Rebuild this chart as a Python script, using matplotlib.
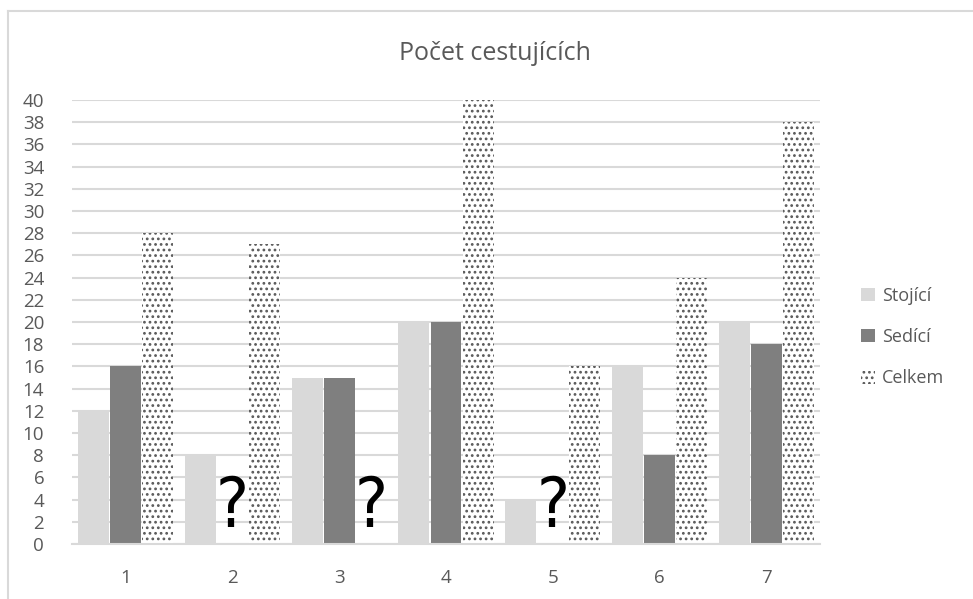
import matplotlib.pyplot as plt
import numpy as np

plt.rcParams['font.family'] = ['Open Sans', 'DejaVu Sans']
plt.rcParams['hatch.linewidth'] = 1.2

categories = ['1', '2', '3', '4', '5', '6', '7']
stojici = [12, 8, 15, 20, 4, 16, 20]
sedici = [16, None, 15, 20, None, 8, 18]
celkem = [28, 27, None, 40, 16, 24, 38]

txt = '#595959'
grid = '#d9d9d9'

fig = plt.figure(figsize=(9.73, 5.99), dpi=100)
ax = fig.add_axes([72 / 973, 55 / 599, 748 / 973, 444 / 599])

# outer chart frame (left + top only visible)
fig.add_artist(plt.Line2D([8 / 973, 8 / 973], [0, 1 - 11 / 599], color=grid, lw=1.5))
fig.add_artist(plt.Line2D([8 / 973, 1], [1 - 11 / 599, 1 - 11 / 599], color=grid, lw=1.5))

x = np.arange(len(categories))
w = 0.29
off = 0.30

def vals(s):
    return [0 if v is None else v for v in s]

ax.bar(x - off, vals(stojici), w, color='#d9d9d9', label='Stojící', zorder=2)
ax.bar(x, vals(sedici), w, color='#7f7f7f', label='Sedící', zorder=2)
ax.bar(x + off, vals(celkem), w, color='white', edgecolor='#595959', hatch='...',
       linewidth=0, label='Celkem', zorder=2)

# question marks for missing values
for series, dx in [(sedici, 0), (celkem, off)]:
    for i, v in enumerate(series):
        if v is None:
            ax.text(x[i] + dx, 0.3, '?', ha='center', va='bottom', fontsize=50,
                    color='black', fontstretch='condensed',
                    family=['Liberation Sans Narrow', 'DejaVu Sans'], zorder=3)

ax.set_xlim(-0.5, len(categories) - 0.5)
ax.set_ylim(0, 40)
ax.set_yticks(np.arange(0, 41, 2))
ax.set_xticks(x)
ax.set_xticklabels(categories)
ax.yaxis.grid(True, color=grid, lw=1.5, zorder=0)
ax.set_axisbelow(True)
for s in ['top', 'right', 'left']:
    ax.spines[s].set_visible(False)
ax.spines['bottom'].set_color(grid)
ax.spines['bottom'].set_linewidth(1.5)
ax.tick_params(length=0, colors=txt, labelsize=13.5)
ax.tick_params(axis='y', pad=20)
ax.tick_params(axis='x', pad=18)

fig.text(495 / 973, 1 - 53 / 599, 'Počet cestujících', ha='center', va='center',
         fontsize=18, color=txt)

leg = fig.legend(loc='center left', bbox_to_anchor=(845 / 973, 1 - 337 / 599),
                 frameon=False, fontsize=13, labelcolor=txt, handlelength=0.75,
                 handleheight=0.75, handletextpad=0.4, labelspacing=1.3)

fig.savefig('out.png', dpi=100)
